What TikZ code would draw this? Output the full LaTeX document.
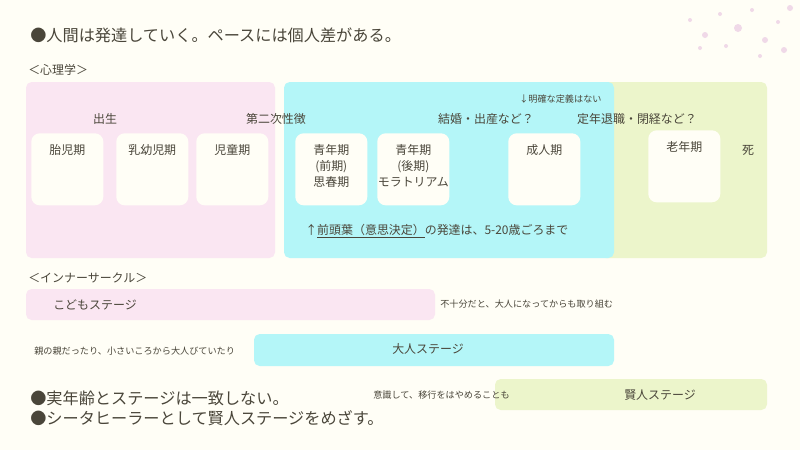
\documentclass[tikz,border=0pt]{standalone}
\usepackage{fontspec}
\setmainfont{Noto Sans CJK JP}
\usetikzlibrary{positioning}
\definecolor{paper}{HTML}{FFFEF6}
\definecolor{pinkbg}{HTML}{FAE6F2}
\definecolor{cyanbg}{HTML}{B4F6F8}
\definecolor{greenbg}{HTML}{ECF5CB}
\definecolor{ink}{HTML}{4A463A}
\tikzset{
  band/.style={rounded corners=4pt},
  period/.style={fill=paper, rounded corners=6pt, minimum width=1.8cm, minimum height=1.8cm, anchor=north west, inner sep=0pt},
  inside/.style={text=ink, font=\fontsize{8.5}{11.5}\selectfont, align=center, anchor=north, inner sep=0pt, yshift=-8pt},
  lbl/.style={text=ink, font=\fontsize{8.5}{10}\selectfont, inner sep=0pt},
  note/.style={text=ink, font=\fontsize{6.5}{8}\selectfont, inner sep=0pt, anchor=west},
  head/.style={text=ink, font=\fontsize{11.5}{14}\selectfont, inner sep=0pt, anchor=west},
}
\begin{document}
\begin{tikzpicture}[x=0.025cm, y=-0.025cm]
  % background
  \fill[paper] (0,0) rectangle (800,450);
  \useasboundingbox (0,0) rectangle (800,450);
  % decorative dots
  \foreach \px/\py/\r in {690/20/2, 705/35/3, 720/14/2, 738/28/4, 752/10/2, 765/40/3, 778/22/2, 790/8/3, 700/48/2, 760/56/2, 784/50/3, 726/46/2}
    \fill[blue!20!purple!15] (\px,\py) circle (\r);

  % title
  \node[head] (title) at (30,35) {●人間は発達していく。ペースには個人差がある。};
  \node[lbl, anchor=west] (psy) at (28,70) {＜心理学＞};

  % life stage bands
  \fill[pinkbg, band] (26,82) rectangle (275,258);
  \fill[greenbg, band] (600,82) rectangle (767,258);
  \fill[cyanbg, band] (284,82) rectangle (614,258);

  % periods
  \node[period] (fetal) at (31,133) {};
  \node[inside] at (fetal.north) {胎児期};
  \node[period] (infant) at (116,133) {};
  \node[inside] at (infant.north) {乳幼児期};
  \node[period] (child) at (196,133) {};
  \node[inside] at (child.north) {児童期};
  \node[period] (youth1) at (295,133) {};
  \node[inside] at (youth1.north) {青年期\\(前期)\\思春期};
  \node[period] (youth2) at (377,133) {};
  \node[inside] at (youth2.north) {青年期\\(後期)\\モラトリアム};
  \node[period] (adult) at (508,133) {};
  \node[inside] at (adult.north) {成人期};
  \node[period] (elder) at (648,130) {};
  \node[inside] at (elder.north) {老年期};
  \node[lbl] (death) at (748,150) {死};

  % events
  \node[lbl] (birth) at (105,119) {出生};
  \node[lbl] (puberty) at (276,119) {第二次性徴};
  \node[lbl] (marriage) at (486,119) {結婚・出産など？};
  \node[lbl] (retire) at (637,119) {定年退職・閉経など？};
  \node[note] (nodef) at (519,99) {↓明確な定義はない};
  \node[lbl, anchor=west] (brain) at (305,231) {↑\underline{前頭葉（意思決定）}の発達は、5-20歳ごろまで};

  % inner circle
  \node[lbl, anchor=west] (inner) at (28,278) {＜インナーサークル＞};
  \fill[pinkbg, band] (26,289) rectangle (435,320);
  \node[lbl, anchor=west] (kids) at (53,305) {こどもステージ};
  \node[note] (kidsnote) at (440,304) {不十分だと、大人になってからも取り組む};
  \fill[cyanbg, band] (254,334) rectangle (614,366);
  \node[lbl] (grown) at (428,349) {大人ステージ};
  \node[note] (grownnote) at (34,351) {親の親だったり、小さいころから大人びていたり};
  \fill[greenbg, band] (495,379) rectangle (767,410);
  \node[lbl] (sage) at (660,395) {賢人ステージ};
  \node[note] (sagenote) at (373,395) {意識して、移行をはやめることも};

  % conclusions
  \node[head] (point1) at (30,398) {●実年齢とステージは一致しない。};
  \node[head] (point2) at (30,418) {●シータヒーラーとして賢人ステージをめざす。};
\end{tikzpicture}
\end{document}
